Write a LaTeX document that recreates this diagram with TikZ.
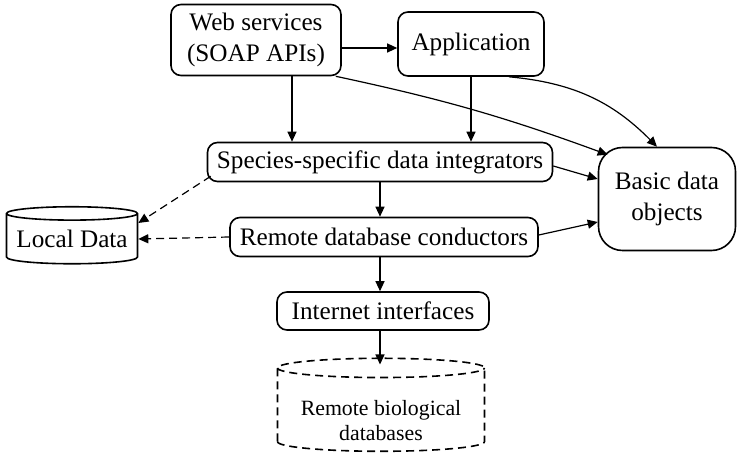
\documentclass[tikz,border=0pt]{standalone}
\usepackage{fontspec}
\setmainfont{Liberation Serif}
\usetikzlibrary{arrows.meta,shapes.geometric}

\begin{document}
\begin{tikzpicture}[x=0.5pt,y=-0.5pt,
    font=\fontsize{12.6}{15.5}\selectfont,
    box/.style={draw,rounded corners=5pt,line width=0.8pt,inner sep=0pt,align=center},
    db/.style={draw,cylinder,shape border rotate=90,aspect=0.12,line width=0.8pt,inner sep=0pt,align=center},
    post/.style={-{Triangle[length=5pt,width=4.5pt]},line width=0.6pt},
    dashline/.style={dash pattern=on 4pt off 2.5pt}]
  \useasboundingbox (0,0) rectangle (737,453);
  % vertices
  \node[box,minimum width=85pt,minimum height=35.5pt] (ws) at (256,40) {Web services\\(SOAP APIs)};
  \node[box,minimum width=73pt,minimum height=32pt] (app) at (471,44) {Application};
  \node[box,minimum width=172.5pt,minimum height=19.5pt] (spec) at (380,162) {Species-specific data integrators};
  \node[box,minimum width=154pt,minimum height=19.5pt] (rdc) at (384,237) {Remote database conductors};
  \node[box,minimum width=106pt,minimum height=19pt] (inet) at (383,311) {Internet interfaces};
  \node[box,rounded corners=12pt,minimum width=68.5pt,minimum height=51.5pt] (basic) at (667,199) {Basic data\\objects};
  \node[db,minimum width=65.5pt,minimum height=28.5pt] (local) at (72,239) {Local Data};
  \node[db,dashline,minimum width=103.5pt,minimum height=46.5pt,font=\fontsize{10.9}{12.5}\selectfont] (bio) at (381,410) {\rule{0pt}{18pt}Remote biological\\databases};
  % edges
  \draw[post] ([yshift=-2pt]app.west -| ws.east) -- ([yshift=-2pt]app.west);
  \draw[post] ([xshift=18pt]ws.south) -- ([xshift=18pt]ws.south |- spec.north);
  \draw[post] (app.south) -- (app.south |- spec.north);
  \draw[post] (spec.south) -- (spec.south |- rdc.north);
  \draw[post] (spec.south |- rdc.south) -- (spec.south |- inet.north);
  \draw[post] (spec.south |- inet.south) -- ([yshift=-3.5pt]spec.south |- bio.north);
  \draw[post] ([xshift=-3pt]ws.south east) to[bend left=4] ([xshift=5pt,yshift=-4pt]basic.north west);
  \draw[post] ([xshift=-18pt]app.south east) to[bend left=20] ([xshift=-5pt]basic.north);
  \draw[post] ([yshift=-2pt]spec.east) -- ([yshift=10pt]basic.west);
  \draw[post] ([yshift=1pt]rdc.east) -- ([yshift=-11.5pt]basic.west);
  % dashed arrows
  \draw[post,dashline] ([xshift=2pt,yshift=3pt]spec.south west) -- ([yshift=8pt]local.east);
  \draw[post,dashline] (rdc.west) -- (local.east);
\end{tikzpicture}
\end{document}
